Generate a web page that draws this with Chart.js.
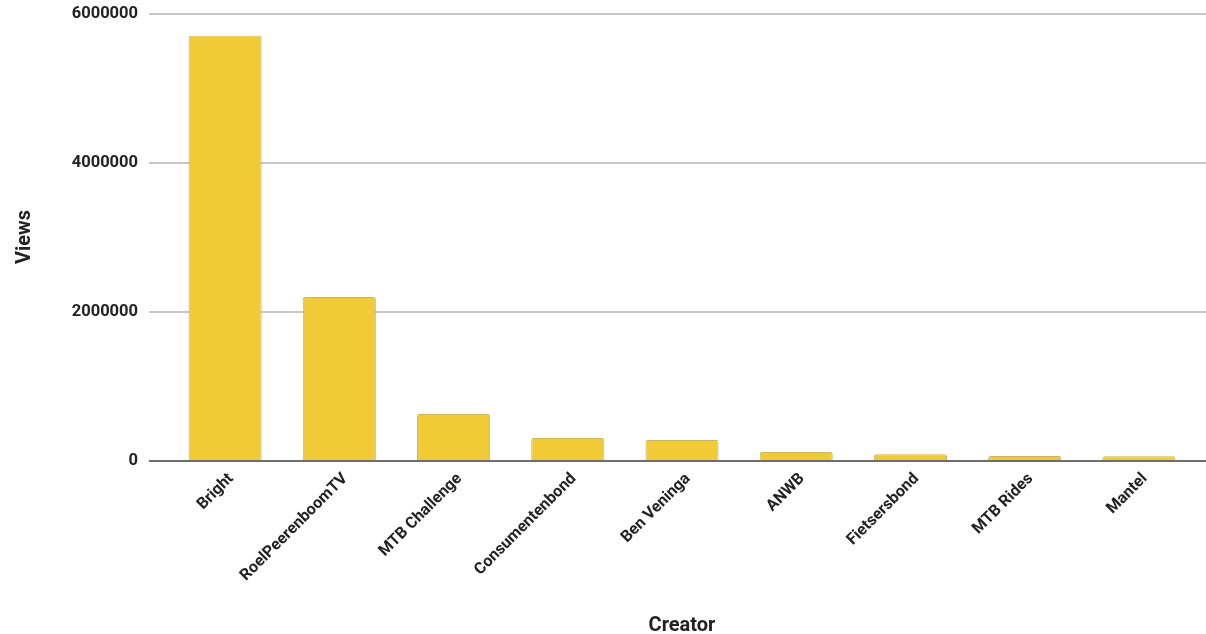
<!DOCTYPE html>
<html>
<head>
<meta charset="utf-8">
<script src="https://cdn.jsdelivr.net/npm/chart.js@4"></script>
<style>
  html, body { margin: 0; padding: 0; background: #fff; }
  #wrap { width: 1206px; height: 634px; position: relative; }
</style>
</head>
<body>
<div id="wrap"><canvas id="c"></canvas></div>
<script>
const categories = ["Bright", "RoelPeerenboomTV", "MTB Challenge", "Consumentenbond", "Ben Veninga", "ANWB", "Fietsersbond", "MTB Rides", "Mantel"];
const views = [5700000, 2195000, 624000, 302000, 276000, 114000, 83000, 60000, 58000];
const yTicks = [0, 2000000, 4000000, 6000000];
const xTitle = "Creator";
const yTitle = "Views";

const gridPlugin = {
  id: 'extGrid',
  beforeDatasetsDraw(chart) {
    const {ctx, chartArea, scales: {y}} = chart;
    ctx.save();
    ctx.strokeStyle = '#c8c8c8';
    ctx.lineWidth = 2;
    yTicks.forEach(v => {
      if (v === 0) return;
      const py = Math.round(y.getPixelForValue(v));
      ctx.beginPath();
      ctx.moveTo(chartArea.left - 19, py);
      ctx.lineTo(chartArea.right + 10, py);
      ctx.stroke();
    });
    ctx.restore();
  },
  afterDatasetsDraw(chart) {
    const {ctx, chartArea, scales: {y}} = chart;
    ctx.save();
    ctx.strokeStyle = '#6e6e6e';
    ctx.lineWidth = 2;
    const py = Math.round(y.getPixelForValue(0));
    ctx.beginPath();
    ctx.moveTo(chartArea.left - 19, py);
    ctx.lineTo(chartArea.right + 10, py);
    ctx.stroke();
    ctx.restore();
  }
};

new Chart(document.getElementById('c'), {
  type: 'bar',
  data: {
    labels: categories,
    datasets: [{
      label: yTitle,
      data: views,
      backgroundColor: '#f0cb35',
      borderColor: 'rgba(160,150,110,0.7)',
      borderWidth: 1,
      borderSkipped: 'bottom',
      borderRadius: 2,
      categoryPercentage: 1,
      barPercentage: 0.64
    }]
  },
  options: {
    responsive: true,
    maintainAspectRatio: false,
    animation: false,
    layout: { padding: { left: 0, right: 10, top: 13.5, bottom: 0 } },
    plugins: { legend: { display: false }, tooltip: { enabled: false } },
    scales: {
      x: {
        grid: { display: false },
        border: { display: false },
        ticks: {
          minRotation: 45, maxRotation: 45, autoSkip: false,
          padding: 1, labelOffset: 6,
          color: '#222', font: { family: 'Roboto', weight: 'bold', size: 16 }
        },
        title: {
          display: true, text: xTitle, color: '#222',
          font: { family: 'Roboto', weight: 'bold', size: 20 },
          padding: { top: 0, bottom: -4 }
        },
        afterFit(scale) { scale.height = 173.5; scale.paddingLeft = 0; scale.paddingRight = 0; }
      },
      y: {
        min: 0, max: 6000000,
        afterBuildTicks(scale) { scale.ticks = yTicks.map(v => ({ value: v })); },
        grid: { display: false },
        border: { display: false },
        ticks: {
          padding: 22,
          color: '#222', font: { family: 'Roboto', weight: 'bold', size: 16.5 },
          callback: v => String(v)
        },
        title: {
          display: true, text: yTitle, color: '#222',
          font: { family: 'Roboto', weight: 'bold', size: 20 },
          padding: { top: 13, bottom: 0 }
        },
        afterFit(scale) { scale.width = 168; scale.paddingTop = 0; scale.paddingBottom = 0; }
      }
    }
  },
  plugins: [gridPlugin]
});
</script>
</body>
</html>
